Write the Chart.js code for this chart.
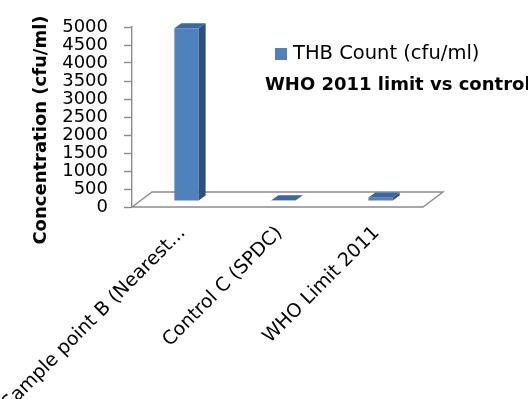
<!DOCTYPE html>
<html>
<head>
<meta charset="utf-8">
<script src="https://cdn.jsdelivr.net/npm/chart.js@4/dist/chart.umd.min.js"></script>
<style>
  html, body { margin: 0; padding: 0; background: #ffffff; }
  #wrap { width: 528px; height: 399px; }
</style>
</head>
<body>
<div id="wrap"><canvas id="c" width="528" height="399"></canvas></div>
<script>
// Sample sites and their total heterotrophic bacteria counts
const categories = ['Sample point B (Nearest...', 'Control C (SPDC)', 'WHO Limit 2011'];
const thbCount = [4800, 20, 100];
const seriesLabel = 'THB Count (cfu/ml)';
const chartTitle = 'WHO 2011 limit vs control';
const axisTitle = 'Concentration (cfu/ml)';
const yMin = 0;
const yMax = 5000;
const yStep = 500;

const FONT = '"DejaVu Sans", sans-serif';
const AXIS_GRAY = '#8c8c8c';
const FRONT = '#4f81bd';
const SIDE = '#2f4f7d';
const TOP = '#3c67a0';

// pseudo-3D geometry (pixels)
const FLOOR_DX = 20, FLOOR_DY = -15;
const BAR_SHIFT_X = 6, BAR_SHIFT_Y = -6;
const SIDE_DX = 7, SIDE_DY = -5;

const threeD = {
  id: 'threeD',
  beforeDatasetsDraw(chart) {
    const { ctx, chartArea: a } = chart;
    ctx.save();
    ctx.strokeStyle = AXIS_GRAY;
    ctx.lineWidth = 1.4;
    ctx.beginPath();
    ctx.moveTo(a.left, a.bottom);
    ctx.lineTo(a.right, a.bottom);
    ctx.lineTo(a.right + FLOOR_DX, a.bottom + FLOOR_DY);
    ctx.lineTo(a.left + FLOOR_DX, a.bottom + FLOOR_DY);
    ctx.closePath();
    ctx.stroke();
    ctx.restore();
    ctx.save();
    ctx.translate(BAR_SHIFT_X, BAR_SHIFT_Y);
  },
  afterDatasetsDraw(chart) {
    const { ctx } = chart;
    chart.getDatasetMeta(0).data.forEach(bar => {
      const { x, y, base, width } = bar.getProps(['x', 'y', 'base', 'width'], true);
      const l = x - width / 2, r = x + width / 2;
      ctx.fillStyle = SIDE;
      ctx.beginPath();
      ctx.moveTo(r, y);
      ctx.lineTo(r + SIDE_DX, y + SIDE_DY);
      ctx.lineTo(r + SIDE_DX, base + SIDE_DY);
      ctx.lineTo(r, base);
      ctx.closePath();
      ctx.fill();
      ctx.fillStyle = TOP;
      ctx.beginPath();
      ctx.moveTo(l, y);
      ctx.lineTo(r, y);
      ctx.lineTo(r + SIDE_DX, y + SIDE_DY);
      ctx.lineTo(l + SIDE_DX, y + SIDE_DY);
      ctx.closePath();
      ctx.fill();
    });
    ctx.restore();
  },
  afterDraw(chart) {
    const { ctx } = chart;
    ctx.save();
    // value axis title
    ctx.translate(41, 130);
    ctx.rotate(-Math.PI / 2);
    ctx.fillStyle = '#000';
    ctx.font = 'bold 18px ' + FONT;
    ctx.textAlign = 'center';
    ctx.textBaseline = 'middle';
    ctx.fillText(axisTitle, 0, 0);
    ctx.restore();

    // legend entry
    ctx.save();
    ctx.fillStyle = FRONT;
    ctx.fillRect(275, 48, 12, 12);
    ctx.fillStyle = '#000';
    ctx.font = '19.5px ' + FONT;
    ctx.textAlign = 'left';
    ctx.textBaseline = 'middle';
    ctx.fillText(chart.data.datasets[0].label, 293, 54);
    // chart title
    ctx.font = 'bold 18px ' + FONT;
    ctx.fillText(chartTitle, 265, 85);
    ctx.restore();
  }
};

new Chart(document.getElementById('c'), {
  type: 'bar',
  data: {
    labels: categories,
    datasets: [{
      label: seriesLabel,
      data: thbCount,
      backgroundColor: FRONT,
      borderWidth: 0,
      categoryPercentage: 1,
      barPercentage: 0.25
    }]
  },
  options: {
    responsive: false,
    animation: false,
    layout: { padding: { top: 27, right: 105, bottom: 0, left: 0 } },
    plugins: {
      legend: { display: false },
      title: { display: false },
      tooltip: { enabled: false }
    },
    scales: {
      x: {
        grid: { display: false },
        border: { display: false },
        ticks: {
          color: '#000',
          font: { family: FONT, size: 19 },
          minRotation: 45,
          maxRotation: 45,
          autoSkip: false,
          padding: 7,
          labelOffset: 2
        },
        afterFit(scale) {
          scale.height = 192;
          scale.paddingLeft = 0;
          scale.paddingRight = 0;
        }
      },
      y: {
        min: yMin,
        max: yMax,
        grid: {
          drawOnChartArea: false,
          tickLength: 8,
          tickColor: AXIS_GRAY,
          tickWidth: 1.4
        },
        border: { color: AXIS_GRAY, width: 1.4 },
        ticks: {
          stepSize: yStep,
          autoSkip: false,
          color: '#000',
          font: { family: FONT, size: 18 },
          padding: 16,
          callback: v => String(v)
        },
        afterFit(scale) { scale.width = 132; }
      }
    }
  },
  plugins: [threeD]
});
</script>
</body>
</html>
